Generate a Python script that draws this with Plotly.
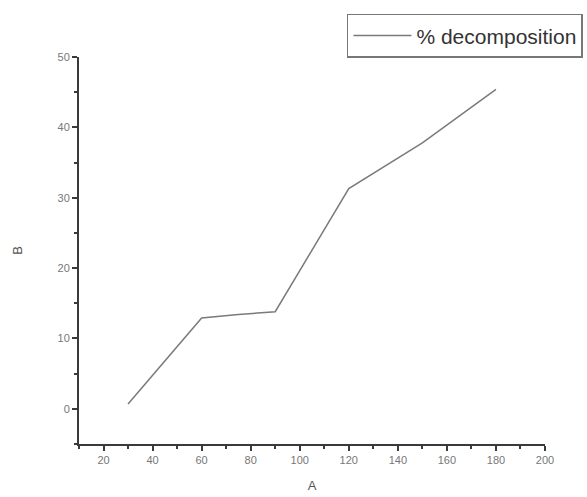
import plotly.graph_objects as go

x_vals = [30, 60, 75, 90, 120, 150, 180]
y_vals = [0.7, 12.9, 13.4, 13.8, 31.3, 37.8, 45.4]
series_name = "% decomposition"

fig = go.Figure()
fig.add_trace(go.Scatter(x=x_vals, y=y_vals, mode="lines", name=series_name,
                         line=dict(color="#7a7a7a", width=1.5)))

axis_common = dict(showline=True, linecolor="#3a3a3a", linewidth=2, ticks="outside",
                   ticklen=5, tickwidth=1.5, tickcolor="#3a3a3a", showgrid=False,
                   zeroline=False, automargin=False,
                   tickfont=dict(family="Liberation Sans", size=11, color="#777"),
                   title_font=dict(family="Liberation Sans", size=13, color="#555"))

fig.update_xaxes(range=[10, 200], dtick=20, tick0=0, title_text="A", title_standoff=16,
                 minor=dict(ticks="outside", dtick=10, ticklen=3, tickcolor="#3a3a3a"),
                 **axis_common)
fig.update_yaxes(range=[-5, 50], dtick=10, tick0=0, title_text="B", title_standoff=32,
                 minor=dict(ticks="outside", dtick=5, ticklen=3, tickcolor="#3a3a3a"),
                 **axis_common)

fig.update_layout(
    width=587, height=497, plot_bgcolor="white", paper_bgcolor="white",
    margin=dict(l=79, r=42, t=57, b=53, autoexpand=False),
    showlegend=True,
    legend=dict(xref="container", yref="container", x=0.591, y=0.972,
                xanchor="left", yanchor="top", itemwidth=58,
                bordercolor="#777", borderwidth=1.5, tracegroupgap=0,
                font=dict(family="Liberation Sans", size=21, color="#333")),
)
fig.write_html("out.html")
